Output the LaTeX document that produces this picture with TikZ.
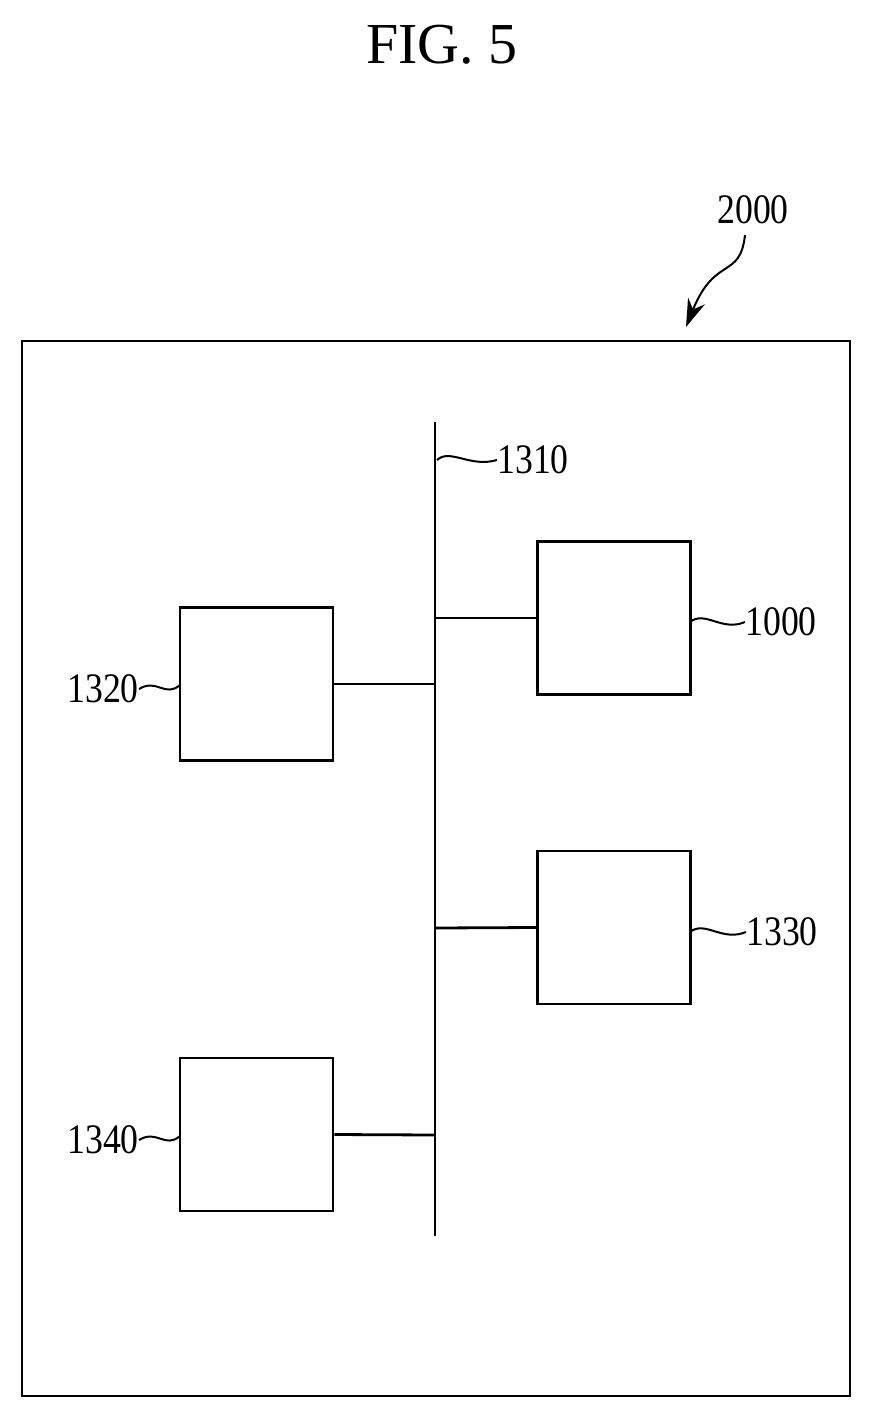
\documentclass[tikz,border=0pt]{standalone}
\usepackage{fontspec}
\setmainfont{Liberation Serif}
\usetikzlibrary{arrows.meta}
\begin{document}
\begin{tikzpicture}[x=0.5pt,y=-0.5pt,
  ln/.style={line width=1.4pt},
  box/.style={ln,draw,minimum width=76.5pt,minimum height=76.5pt,inner sep=0pt},
  lab/.style={font=\fontsize{21}{21}\selectfont,xscale=0.85,inner sep=0pt},
  sq/.style={line width=1pt}]
\useasboundingbox (0,0) rectangle (871,1418);
\node[font=\fontsize{29}{29}\selectfont] (t) at (442,45) {FIG. 5};
\draw[ln] (22,341) rectangle (850,1396);
\coordinate (bt) at (435,422); \coordinate (bb) at (435,1236);
\draw[ln] (bt) -- (bb);
\node[box] (b1000) at (614,618) {};
\node[box] (b1320) at (256.5,684) {};
\node[box] (b1330) at (614,927.5) {};
\node[box] (b1340) at (256.5,1134.5) {};
\draw[ln] (435,618) -- (b1000.west);
\draw[ln] (b1320.east) -- (435,684);
\draw[ln] (435,928) -- (b1330.west);
\draw[ln] (b1340.east) -- (435,1135);
\node[lab] (l1310) at (533,460) {1310};
\node[lab] (l1000) at (781,622) {1000};
\node[lab] (l1320) at (103,689) {1320};
\node[lab] (l1330) at (782,932) {1330};
\node[lab] (l1340) at (103,1140) {1340};
\node[lab] (l2000) at (753,210) {2000};
\draw[sq] (437,460) .. controls (450,448) and (470,468) .. (l1310.west);
\draw[sq] (690,622) .. controls (705,610) and (722,632) .. (l1000.west);
\draw[sq] (690,932) .. controls (705,920) and (722,942) .. (l1330.west);
\draw[sq] (l1320.east) .. controls (157,678) and (165,698) .. (180,685);
\draw[sq] (l1340.east) .. controls (157,1129) and (165,1149) .. (180,1136);
\draw[sq,-{Stealth[length=14pt,width=9pt]}] (745,235) .. controls (740,280) and (715,255) .. (686,327);
\end{tikzpicture}
\end{document}
